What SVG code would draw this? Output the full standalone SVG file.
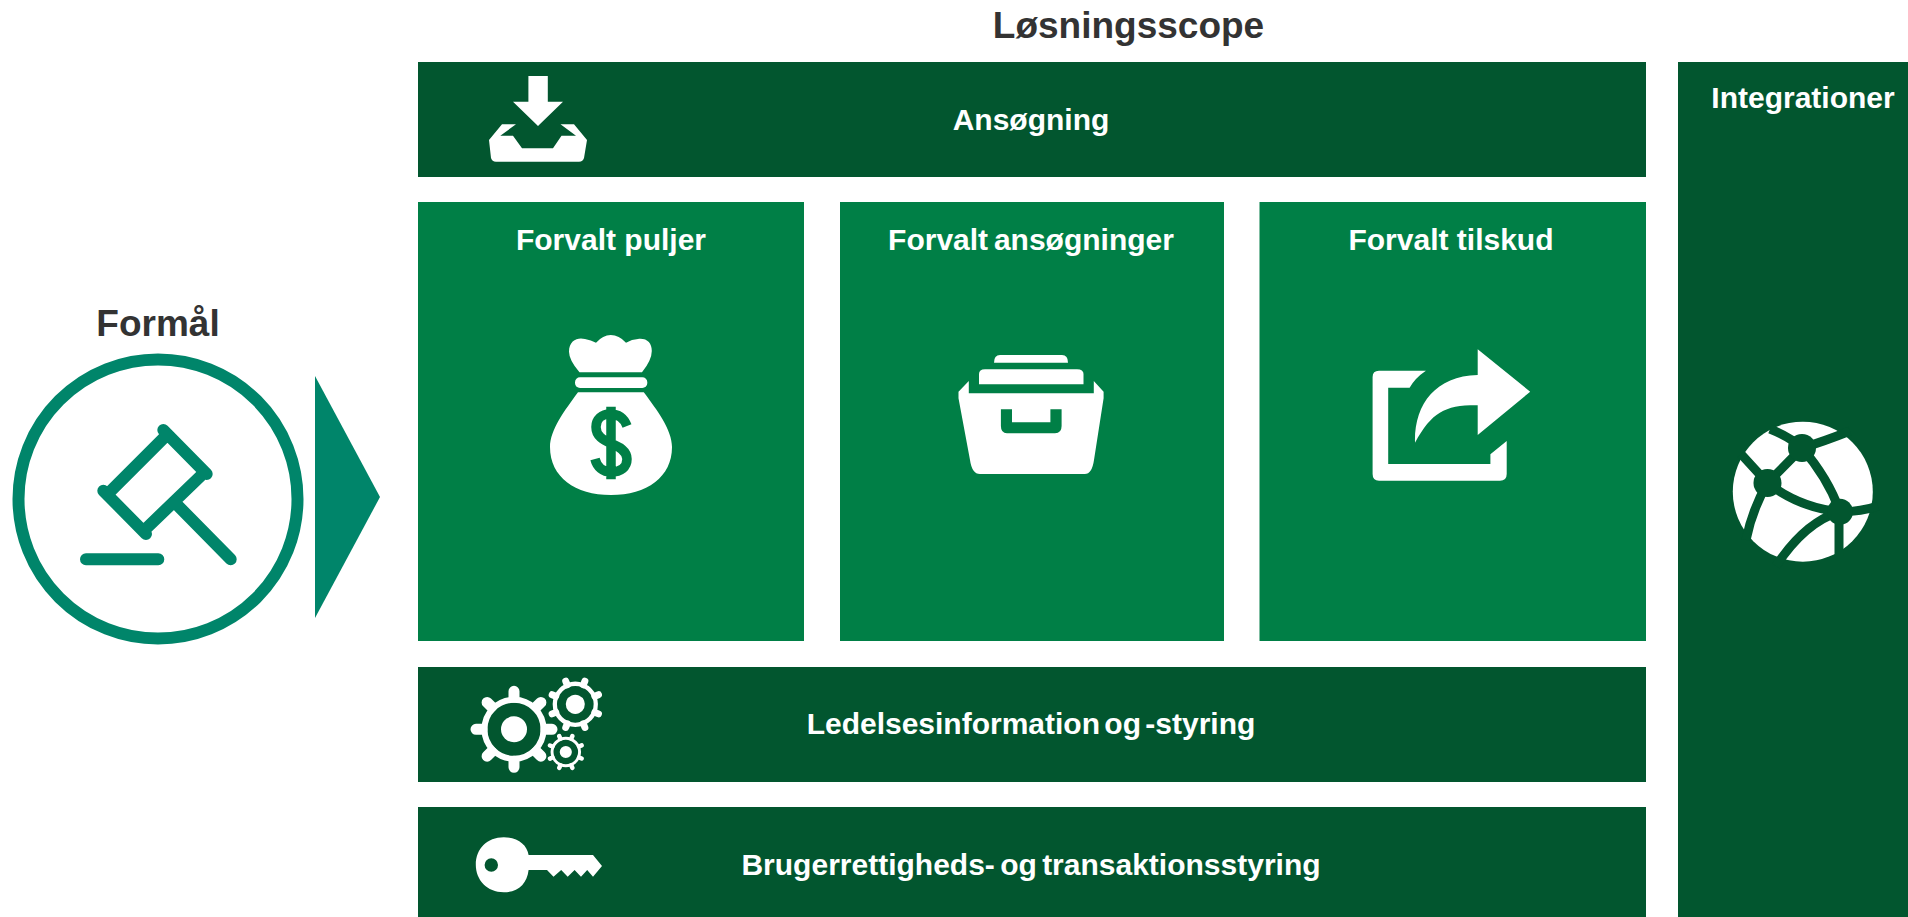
<svg xmlns="http://www.w3.org/2000/svg" xmlns:xlink="http://www.w3.org/1999/xlink" width="1908" height="917" viewBox="0 0 1908 917">
<style>
text{font-family:"Liberation Sans",Arial,sans-serif;font-weight:700;text-anchor:middle}
.head{font-size:37px;fill:#333333}
.lab{font-size:30px;fill:#ffffff}
.dark{fill:#02562f}
.green{fill:#007f46}
.teal{fill:#00856a}
.w{fill:#ffffff}
.ts{fill:none;stroke:#00856a;stroke-width:12;stroke-linecap:round}
.ws{fill:none;stroke:#ffffff;stroke-linecap:round}
.gs{fill:none;stroke:#007f46}
.ds{fill:none;stroke:#02562f;stroke-width:9}
</style>
<defs>
<g id="t8a"><path d="M0,-32V-38M0,32V38M-32,0H-38M32,0H38M22.6,-22.6L26.9,-26.9M-22.6,-22.6L-26.9,-26.9M22.6,22.6L26.9,26.9M-22.6,22.6L-26.9,26.9"/></g>
</defs>
<rect width="1908" height="917" fill="#ffffff"/>
<g id="title"><text class="head" x="1128.500" y="38">Løsningsscope</text></g>
<g id="formaal">
<text class="head" x="158" y="336">Formål</text>
<circle cx="158" cy="499" r="139.5" fill="none" stroke="#00856a" stroke-width="12"/>
<path class="ts" d="M163.3,430L206.7,474M103.3,490.7L146,534M110,491.7L165,436.7M146.7,528L201.7,475M175,502.7L230.7,559.3M86,559.3H158.3"/>
</g>
<g id="pil"><path class="teal" d="M315,376L380,497L315,618Z"/></g>
<g id="ansoegning">
<rect class="dark" x="418" y="62" width="1228" height="115"/>
<text class="lab" x="1031" y="130">Ansøgning</text>
<path class="w" d="M528.4,76H547.8V101.7H563L538,126L513,101.7H528.4Z"/>
<path class="w" d="M502,124.300H516L500.300,135.700H513L522,148.300H553L561.500,135.700H576L560.500,124.300H574L587,140L584,158Q583,161.700 579,161.700H496Q492,161.700 491,158L489,140Z"/>
</g>
<g id="forvalt-puljer">
<rect class="green" x="418" y="202" width="386" height="439"/>
<text class="lab" x="611" y="250">Forvalt puljer</text>
<path class="w" d="M579.5,372.3Q569,360 569,351.7C569,340 578,337 585,339Q591,340 596,342.7Q603,335 610.7,335Q619,335 626,342.7Q632,339 638,339C647,338 651.8,343 651.8,351Q651.8,360 642,372.3Z"/>
<rect class="w" x="575" y="377.3" width="72.3" height="10.7" rx="5"/>
<path class="w" d="M578,392.3H643.8C657,410 672,430 672,447C672,477 647,495 611,495C575,495 550,477 550,447C550,430 565,410 578,392.3Z"/>
<path class="gs" stroke-width="9.500" d="M627,426C624,418 618,414 610,414C602,414 596,419 596,427C596,436 603,440 611,443.500C620,447 627,451 627,459C627,467 621,472 611,472C603,472 597,467 595,459M611,406.700V479.300"/>
</g>
<g id="forvalt-ansoegninger">
<rect class="green" x="840" y="202" width="384" height="439"/>
<text class="lab" x="1031" y="250" word-spacing="-2.500">Forvalt ansøgninger</text>
<path class="w" d="M994,362.700Q994,355 1000,355H1062Q1068,355 1068,362.700Z"/>
<path class="w" d="M979,384.300V374Q979,369.300 985,369.300H1077Q1083.500,369.300 1083.500,374V384.300Z"/>
<path class="w" d="M968.800,381V393.300H1093.800V381L1103.600,391.700V398.300L1094,460Q1092,474 1084.800,474H979.900Q972,474 970,460L958.500,398.300V391.700Z"/>
<path class="green" d="M1000.900,409.300H1012V422.300H1050.400V409.300H1061.600V426Q1061.600,433.300 1055,433.300H1007Q1000.900,433.300 1000.900,426Z"/>
</g>
<g id="forvalt-tilskud">
<rect class="green" x="1259.500" y="202" width="386.500" height="439"/>
<text class="lab" x="1451" y="250">Forvalt tilskud</text>
<path class="w" d="M1477.700,349.300L1530.200,391.700L1477.700,435V405.300C1445,405 1432,412 1415,442.700C1414,405 1435,376 1477.700,375Z"/>
<path class="w" d="M1425.900,370.700Q1415,378 1409.600,387.700H1388.200V464H1490.400V454.300L1506.700,441V474Q1506.700,480.700 1500,480.700H1379Q1372.600,480.700 1372.600,474V377Q1372.600,370.700 1379,370.700Z"/>
</g>
<g id="ledelsesinformation">
<rect class="dark" x="418" y="667" width="1228" height="115"/>
<text class="lab" x="1031" y="734" word-spacing="-4">Ledelsesinformation og -styring</text>
<g transform="translate(514,729.300)">
<circle r="29.500" fill="none" stroke="#ffffff" stroke-width="6"/><circle class="w" r="13"/>
<use href="#t8a" class="ws" stroke-width="11"/>
</g>
<g transform="translate(575.300,704.300) rotate(22.500) scale(.66)">
<circle r="31" fill="none" stroke="#ffffff" stroke-width="6.500"/><circle class="w" r="14.500"/>
<use href="#t8a" class="ws" stroke-width="10.500"/>
</g>
<g transform="translate(565.800,752) rotate(22.500) scale(.45)">
<circle r="30.500" fill="none" stroke="#ffffff" stroke-width="6.500"/><circle class="w" r="13.500"/>
<use href="#t8a" class="ws" stroke-width="10"/>
</g>
</g>
<g id="brugerrettigheder">
<rect class="dark" x="418" y="807" width="1228" height="110"/>
<text class="lab" x="1031" y="875" word-spacing="-3">Brugerrettigheds- og transaktionsstyring</text>
<path class="w" fill-rule="evenodd" d="M503.800,837.300C518,837.300 527,845 528.600,855H593L602,866L593,876.700L587.200,870L581,876.700L574.600,870L567.700,876.700L561.200,870L553.500,876.700L547,870H528.600C527,884 518,892.300 503.800,892.300C487,892.300 475.800,880 475.800,864.800C475.800,849 487,837.300 503.800,837.300ZM491.300,858.300A6.700,6.700 0 1 0 491.300,871.700A6.700,6.700 0 1 0 491.300,858.300Z"/>
</g>
<g id="integrationer">
<rect class="dark" x="1678" y="62" width="230" height="855"/>
<text class="lab" x="1803" y="108">Integrationer</text>
<circle class="w" cx="1802.800" cy="491.700" r="70"/>
<path class="ds" d="M1741,454L1767.500,483M1770,429Q1790,437 1802,448Q1825,441 1850,431M1802,448L1767.500,483M1802,448Q1828,478 1840,511.700M1767.500,483Q1752,510 1746,540M1767.500,483Q1800,508 1840,511.700M1840,511.700Q1805,522 1776,566M1839,511.700V556M1840,511.700Q1860,512 1878,506"/>
<circle class="dark" cx="1802" cy="448" r="14"/>
<circle class="dark" cx="1767.500" cy="483" r="14"/>
<circle class="dark" cx="1840" cy="511.700" r="13"/>
</g>
</svg>
